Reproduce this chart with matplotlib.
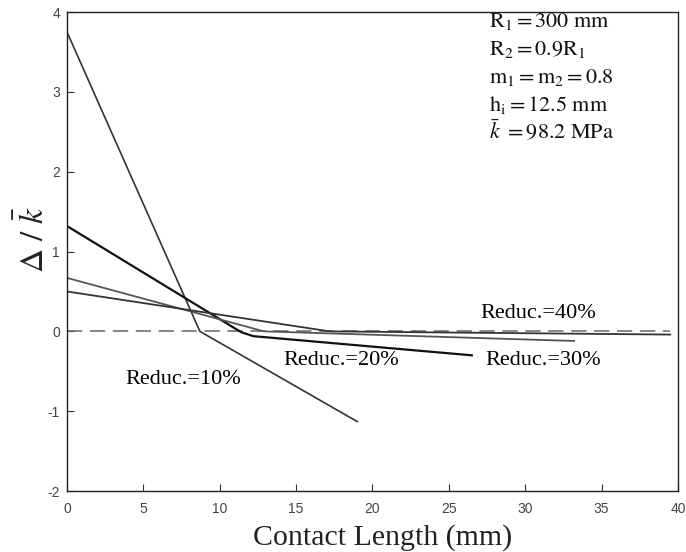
import matplotlib
matplotlib.use("Agg")
import matplotlib.pyplot as plt

plt.rcParams['mathtext.fontset'] = 'stix'
plt.rcParams['axes.unicode_minus'] = False

# contact length (mm) vs normalised stress jump for each reduction
x10 = [0, 8.7, 19.0]
y10 = [3.75, 0.0, -1.13]
x20 = [0, 11.4, 12.2, 26.5]
y20 = [1.32, -0.01, -0.06, -0.30]
x30 = [0, 12.9, 33.2]
y30 = [0.67, 0.0, -0.12]
x40 = [0, 17.2, 39.5]
y40 = [0.50, 0.0, -0.04]

xticks = [0, 5, 10, 15, 20, 25, 30, 35, 40]
yticks = [-2, -1, 0, 1, 2, 3, 4]

params = [r'$\mathrm{R_1 = 300\ mm}$', r'$\mathrm{R_2 = 0.9R_1}$',
          r'$\mathrm{m_1{=}m_2{=}0.8}$', r'$\mathrm{h_i{=}12.5\ mm}$',
          r'$\bar{k}\ \mathrm{{=}98.2\ MPa}$']

fig = plt.figure(figsize=(6.86, 5.52), dpi=100)
ax = fig.add_axes([0.0977, 0.1105, 0.8906, 0.8675])

ax.plot([0, 39.5], [0, 0], color='#666666', lw=1.1, ls=(0, (10, 5)))
ax.plot(x10, y10, color='#333333', lw=1.2)
ax.plot(x20, y20, color='#111111', lw=1.6)
ax.plot(x30, y30, color='#555555', lw=1.3)
ax.plot(x40, y40, color='#333333', lw=1.3)

ax.set_xlim(0, 40)
ax.set_ylim(-2, 4)
ax.set_xticks(xticks)
ax.set_yticks(yticks)
ax.tick_params(direction='in', length=5, width=0.8, labelsize=10,
               labelcolor='#444444', color='#333333')
ax.tick_params(axis='x', pad=8)
ax.tick_params(axis='y', pad=5)
for lbl in ax.get_xticklabels() + ax.get_yticklabels():
    lbl.set_family('Liberation Sans')
for s in ax.spines.values():
    s.set_color('#222222')
    s.set_linewidth(1.0)

serif = 'Liberation Serif'
ax.text(0.517, -0.113, 'Contact Length (mm)', transform=ax.transAxes,
        family=serif, fontsize=21.5, color='#222222', ha='center', va='baseline')
ax.set_ylabel(r'$\Delta\ /\ \bar{k}$', fontsize=24, color='#222222')
ax.yaxis.set_label_coords(-0.027, 0.524)

for i, t in enumerate(params):
    ax.text(27.6, 3.81 - i * 0.35, t, fontsize=16,
            va='baseline', color='#111111')

ax.text(3.8, -0.665, 'Reduc.=10%', family=serif, fontsize=16, va='baseline')
ax.text(14.17, -0.427, 'Reduc.=20%', family=serif, fontsize=16, va='baseline')
ax.text(27.4, -0.427, 'Reduc.=30%', family=serif, fontsize=16, va='baseline')
ax.text(27.05, 0.167, 'Reduc.=40%', family=serif, fontsize=16, va='baseline')

fig.savefig('out.png', dpi=100)
